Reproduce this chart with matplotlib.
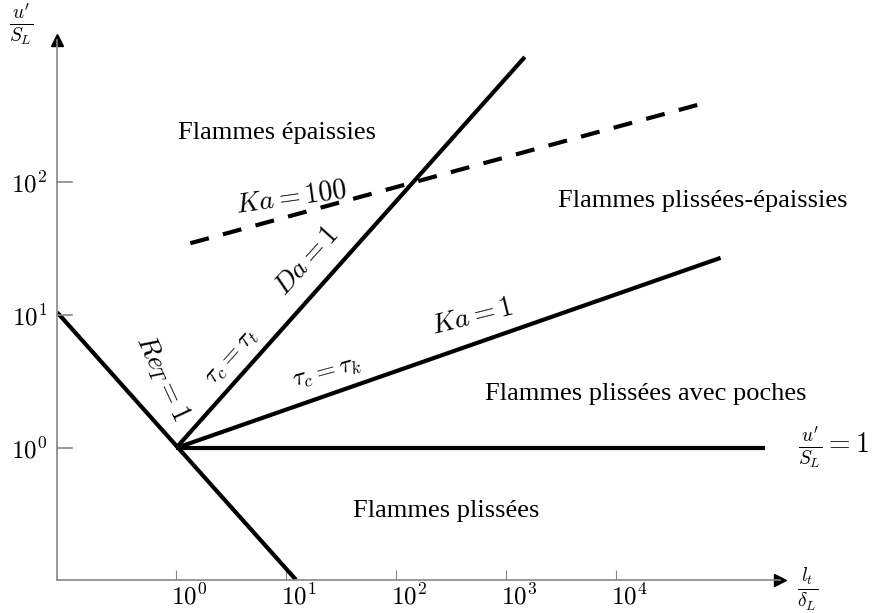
import numpy as np
import matplotlib
matplotlib.use("Agg")
import matplotlib.pyplot as plt
import matplotlib.transforms as mtransforms

plt.rcParams["mathtext.fontset"] = "cm"
plt.rcParams["font.family"] = "Liberation Serif"

# regime boundaries, given as log10 of (l_t/delta_L, u'/S_L) at the ends
re_logx = [-1.08, 1.09]
re_logy = [1.02, -0.99]
da_logx = [0.0, 3.17]
da_logy = [0.0, 2.94]
ka1_logx = [0.0, 4.95]
ka1_logy = [0.0, 1.43]
u1_logx = [0.0, 5.35]
u1_logy = [0.0, 0.0]
ka100_logx = [0.13, 4.74]
ka100_logy = [1.54, 2.58]

xtick_exp = [0, 1, 2, 3, 4]
ytick_exp = [0, 1, 2]

regions = ["Flammes épaissies", "Flammes plissées-épaissies",
           "Flammes plissées avec poches", "Flammes plissées"]


def p(v):
    return np.power(10.0, v)


fig = plt.figure(figsize=(8.72, 6.13), dpi=100)
ax = fig.add_axes([57 / 872, 33 / 613, 723 / 872, 540 / 613])
ax.set_xscale("log")
ax.set_yscale("log")
ax.set_xlim(p(-1.082), p(5.49))
ax.set_ylim(p(-0.992), p(3.068))

lw = 3
ax.plot(p(re_logx), p(re_logy), color="k", lw=lw, solid_capstyle="butt")
ax.plot(p(da_logx), p(da_logy), color="k", lw=lw, solid_capstyle="butt")
ax.plot(p(ka1_logx), p(ka1_logy), color="k", lw=lw, solid_capstyle="butt")
ax.plot(p(u1_logx), p(u1_logy), color="k", lw=lw, solid_capstyle="butt")
ax.plot(p(ka100_logx), p(ka100_logy), color="k", lw=lw, ls=(0, (4.6, 3.5)))

# axes look: only bottom/left, gray, with black arrow heads
for s in ["top", "right"]:
    ax.spines[s].set_visible(False)
for s in ["left", "bottom"]:
    ax.spines[s].set_color("#888888")
    ax.spines[s].set_linewidth(1.2)
ax.plot([1], [0], marker=">", color="k", ms=9, transform=ax.transAxes, clip_on=False)
ax.plot([0], [1], marker="^", color="k", ms=9, transform=ax.transAxes, clip_on=False)

ax.set_xticks(p(xtick_exp))
ax.set_xticklabels([r"$10^{%d}$" % e for e in xtick_exp])
ax.set_yticks(p(ytick_exp))
ax.set_yticklabels([r"$10^{%d}$" % e for e in ytick_exp])
ax.minorticks_off()
ax.tick_params(axis="x", direction="in", length=7, color="#888888", labelsize=18, pad=3)
ax.tick_params(axis="y", direction="out", length=0, labelsize=18, pad=7)
# y ticks drawn inward to the right
for e in ytick_exp:
    ax.plot([0, 15 / 723], [p(e), p(e)], color="#888888", lw=1.2,
            transform=ax.get_yaxis_transform(), clip_on=False)
off = mtransforms.ScaledTranslation(13 / 100, 0, fig.dpi_scale_trans)
for lab in ax.get_xticklabels():
    lab.set_transform(lab.get_transform() + off)

fs = 19
ax.text(p(0.92), p(2.37), regions[0], fontsize=fs, ha="center", va="center")
ax.text(p(4.79), p(1.86), regions[1], fontsize=fs, ha="center", va="center")
ax.text(p(4.27), p(0.41), regions[2], fontsize=fs, ha="center", va="center")
ax.text(p(2.46), p(-0.47), regions[3], fontsize=fs, ha="center", va="center")

ms = 20
ax.text(p(1.05), p(1.88), r"$Ka = 100$", fontsize=ms, rotation=8, ha="center", va="center")
ax.text(p(1.19), p(1.40), r"$Da = 1$", fontsize=ms, rotation=48, ha="center", va="center")
ax.text(p(0.51), p(0.68), r"$\tau_c = \tau_t$", fontsize=18, rotation=48, ha="center", va="center")
ax.text(p(-0.12), p(0.53), r"$Re_T = 1$", fontsize=ms, rotation=-65, ha="center", va="center")
ax.text(p(2.69), p(0.98), r"$Ka = 1$", fontsize=ms, rotation=14, ha="center", va="center")
ax.text(p(1.37), p(0.56), r"$\tau_c = \tau_k$", fontsize=18, rotation=15, ha="center", va="center")
ax.text(p(5.65), p(0.0), r"$\frac{u^{\prime}}{S_L} = 1$", fontsize=20, ha="left", va="center",
        clip_on=False)

fig.text(21 / 872, 1 - 25 / 613, r"$\frac{u^{\prime}}{S_L}$", fontsize=20, ha="center", va="center")
fig.text(808 / 872, 1 - 589 / 613, r"$\frac{l_t}{\delta_L}$", fontsize=20, ha="center", va="center")

fig.savefig("out.png", dpi=100)
